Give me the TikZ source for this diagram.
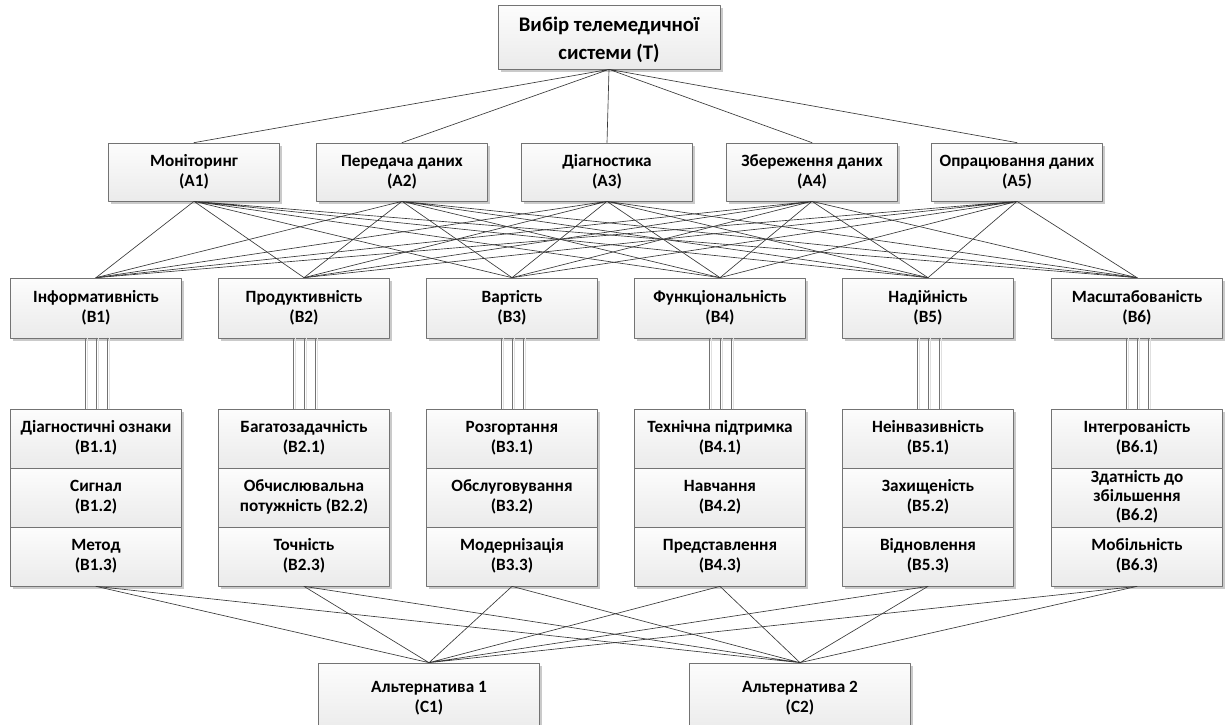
\documentclass[tikz,border=0pt]{standalone}
\usepackage{fontspec}
\setmainfont{Carlito}
\usetikzlibrary{shadows}
\newcommand\boxstrut{\rule[-3.7pt]{0pt}{16.3pt}}
\newcommand\twoline[2]{\boxstrut#1\\\boxstrut#2}
\begin{document}
\begin{tikzpicture}[x=1pt,y=-1pt,line join=round,line cap=round,
	font=\bfseries\fontsize{17.2}{20}\selectfont,
	box/.style={draw=black!55,line width=.7pt,top color=black!1,bottom color=black!8,
		drop shadow={shadow xshift=2.5pt,shadow yshift=-2.5pt,fill=black!35,opacity=.6},
		minimum width=171pt,minimum height=58pt,inner sep=0pt,align=center},
	cell/.style={box,minimum height=59pt},
	wire/.style={draw=black!78,line width=.65pt},
	tri/.style={draw=black!55,line width=.9pt,preaction={draw=black!12,line width=.9pt,transform canvas={xshift=2pt}}}]
	\useasboundingbox (0,0) rectangle (1225,724);
	% rows of boxes
	\node[box,minimum width=222pt,minimum height=64pt,font=\bfseries\fontsize{20.7}{28}\selectfont] (T)at(609,37) {\rule[-4pt]{0pt}{24pt}Вибір телемедичної\\\rule[-4pt]{0pt}{24pt}системи (T)};
	\node[box] (A1)at(194,172) {\twoline{Моніторинг}{(A1)}};
	\node[box] (A2)at(402,172) {\twoline{Передача даних}{(A2)}};
	\node[box] (A3)at(607,172) {\twoline{Діагностика}{(A3)}};
	\node[box] (A4)at(812,172) {\twoline{Збереження даних}{(A4)}};
	\node[box] (A5)at(1017,172) {\twoline{Опрацювання даних}{(A5)}};
	\node[box,minimum height=60pt] (B1)at(96,308) {\twoline{Інформативність}{(B1)}};
	\node[box,minimum height=60pt] (B2)at(304,308) {\twoline{Продуктивність}{(B2)}};
	\node[box,minimum height=60pt] (B3)at(512,308) {\twoline{Вартість}{(B3)}};
	\node[box,minimum height=60pt] (B4)at(720,308) {\twoline{Функціональність}{(B4)}};
	\node[box,minimum height=60pt] (B5)at(928,308) {\twoline{Надійність}{(B5)}};
	\node[box,minimum height=60pt] (B6)at(1137,308) {\twoline{Масштабованість}{(B6)}};
	\node[cell] (B11)at(96,438.5) {\twoline{Діагностичні ознаки}{(B1.1)}};
	\node[cell] (B12)at(96,497.5) {\twoline{Сигнал}{(B1.2)}};
	\node[cell] (B13)at(96,556.5) {\twoline{Метод}{(B1.3)}};
	\node[cell] (B21)at(304,438.5) {\twoline{Багатозадачність}{(B2.1)}};
	\node[cell] (B22)at(304,497.5) {\twoline{Обчислювальна}{потужність (B2.2)}};
	\node[cell] (B23)at(304,556.5) {\twoline{Точність}{(B2.3)}};
	\node[cell] (B31)at(512,438.5) {\twoline{Розгортання}{(B3.1)}};
	\node[cell] (B32)at(512,497.5) {\twoline{Обслуговування}{(B3.2)}};
	\node[cell] (B33)at(512,556.5) {\twoline{Модернізація}{(B3.3)}};
	\node[cell] (B41)at(720,438.5) {\twoline{Технічна підтримка}{(B4.1)}};
	\node[cell] (B42)at(720,497.5) {\twoline{Навчання}{(B4.2)}};
	\node[cell] (B43)at(720,556.5) {\twoline{Представлення}{(B4.3)}};
	\node[cell] (B51)at(928,438.5) {\twoline{Неінвазивність}{(B5.1)}};
	\node[cell] (B52)at(928,497.5) {\twoline{Захищеність}{(B5.2)}};
	\node[cell] (B53)at(928,556.5) {\twoline{Відновлення}{(B5.3)}};
	\node[cell] (B61)at(1137,438.5) {\twoline{Інтегрованість}{(B6.1)}};
	\node[cell,font=\bfseries\fontsize{17.2}{19}\selectfont] (B62)at(1137,497.5) {\rule[-3.7pt]{0pt}{15.3pt}Здатність до\\\rule[-3.7pt]{0pt}{15.3pt}збільшення\\\rule[-3.7pt]{0pt}{15.3pt}(B6.2)};
	\node[cell] (B63)at(1137,556.5) {\twoline{Мобільність}{(B6.3)}};
	\node[box,minimum width=221pt,minimum height=70pt] (C1)at(429,698) {\twoline{Альтернатива 1}{(C1)}};
	\node[box,minimum width=221pt,minimum height=70pt] (C2)at(800,698) {\twoline{Альтернатива 2}{(C2)}};
	% links
	\draw[wire] (T.south)--(A1.north) (T.south)--(A2.north) (T.south)--(A3.north) (T.south)--(A4.north) (T.south)--(A5.north);
	\draw[wire] (A1.south)--(B1.north) (A1.south)--(B2.north) (A1.south)--(B3.north) (A1.south)--(B4.north) (A1.south)--(B5.north) (A1.south)--(B6.north);
	\draw[wire] (A2.south)--(B1.north) (A2.south)--(B2.north) (A2.south)--(B3.north) (A2.south)--(B4.north) (A2.south)--(B5.north) (A2.south)--(B6.north);
	\draw[wire] (A3.south)--(B1.north) (A3.south)--(B2.north) (A3.south)--(B3.north) (A3.south)--(B4.north) (A3.south)--(B5.north) (A3.south)--(B6.north);
	\draw[wire] (A4.south)--(B1.north) (A4.south)--(B2.north) (A4.south)--(B3.north) (A4.south)--(B4.north) (A4.south)--(B5.north) (A4.south)--(B6.north);
	\draw[wire] (A5.south)--(B1.north) (A5.south)--(B2.north) (A5.south)--(B3.north) (A5.south)--(B4.north) (A5.south)--(B5.north) (A5.south)--(B6.north);
	\draw[wire] (B13.south)--(C1.north) (B23.south)--(C1.north) (B33.south)--(C1.north) (B43.south)--(C1.north) (B53.south)--(C1.north) (B63.south)--(C1.north);
	\draw[wire] (B13.south)--(C2.north) (B23.south)--(C2.north) (B33.south)--(C2.north) (B43.south)--(C2.north) (B53.south)--(C2.north) (B63.south)--(C2.north);
	% triple links
	\draw[tri] ([xshift=-11pt]B1.south)--([xshift=-11pt]B11.north) (B1.south)--(B11.north) ([xshift=11pt]B1.south)--([xshift=11pt]B11.north);
	\draw[tri] ([xshift=-11pt]B2.south)--([xshift=-11pt]B21.north) (B2.south)--(B21.north) ([xshift=11pt]B2.south)--([xshift=11pt]B21.north);
	\draw[tri] ([xshift=-11pt]B3.south)--([xshift=-11pt]B31.north) (B3.south)--(B31.north) ([xshift=11pt]B3.south)--([xshift=11pt]B31.north);
	\draw[tri] ([xshift=-11pt]B4.south)--([xshift=-11pt]B41.north) (B4.south)--(B41.north) ([xshift=11pt]B4.south)--([xshift=11pt]B41.north);
	\draw[tri] ([xshift=-11pt]B5.south)--([xshift=-11pt]B51.north) (B5.south)--(B51.north) ([xshift=11pt]B5.south)--([xshift=11pt]B51.north);
	\draw[tri] ([xshift=-11pt]B6.south)--([xshift=-11pt]B61.north) (B6.south)--(B61.north) ([xshift=11pt]B6.south)--([xshift=11pt]B61.north);
\end{tikzpicture}
\end{document}
